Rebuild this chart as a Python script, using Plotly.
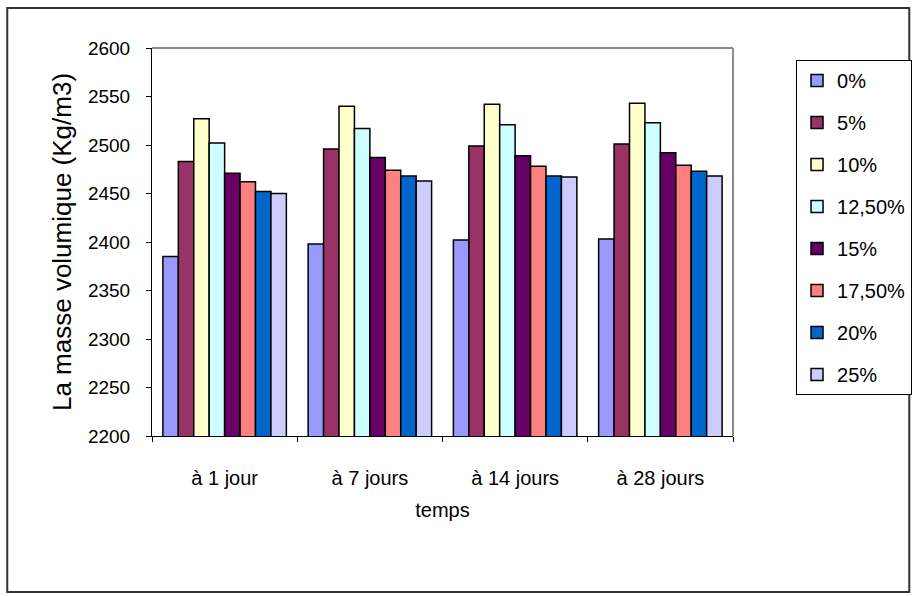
import plotly.graph_objects as go

# Density of concrete (kg/m3) by curing age and replacement rate
ages = ["à 1 jour", "à 7 jours", "à 14 jours", "à 28 jours"]
rates = ["0%", "5%", "10%", "12,50%", "15%", "17,50%", "20%", "25%"]

d_0 = [2385, 2398, 2402, 2403]
d_5 = [2483, 2496, 2499, 2501]
d_10 = [2527, 2540, 2542, 2543]
d_12_5 = [2502, 2517, 2521, 2523]
d_15 = [2471, 2487, 2489, 2492]
d_17_5 = [2462, 2474, 2478, 2479]
d_20 = [2452, 2468, 2468, 2473]
d_25 = [2450, 2463, 2467, 2468]

series = [d_0, d_5, d_10, d_12_5, d_15, d_17_5, d_20, d_25]
colors = ["#9999FF", "#993366", "#FFFFCC", "#CCFFFF",
          "#660066", "#FF8080", "#0066CC", "#CCCCFF"]

W, H = 924, 596
L, R, T, B = 152, 182, 48, 160
pw, ph = W - L - R, H - T - B

def px_x(x):
    return (x - L) / pw

def px_y(y):
    return (H - B - y) / ph

FONT = "Liberation Sans, Arial, sans-serif"

fig = go.Figure()
for name, vals, col in zip(rates, series, colors):
    fig.add_trace(go.Bar(
        x=ages, y=vals, name=name, legendgroup=name,
        marker=dict(color=col, line=dict(color="#000000", width=1.5)),
    ))

fig.update_layout(
    width=W, height=H,
    margin=dict(l=L, r=R, t=T, b=B),
    paper_bgcolor="white", plot_bgcolor="white",
    barmode="group", bargap=0.15, bargroupgap=0,
    font=dict(family=FONT, size=19, color="#000000"),
    showlegend=True,
    legend=dict(
        x=px_x(806), y=px_y(60), xanchor="left", yanchor="top",
        bordercolor="#000000", borderwidth=1, bgcolor="white",
        font=dict(family=FONT, size=20),
        tracegroupgap=13, itemwidth=30,
    ),
    xaxis=dict(
        showline=True, linecolor="#000000", linewidth=1,
        ticks="outside", ticklen=5, tickcolor="#000000",
        tickson="boundaries", ticklabelstandoff=24,
        title=dict(text="temps", standoff=14, font=dict(size=20)),
        showgrid=False, zeroline=False,
        tickfont=dict(size=20),
    ),
    yaxis=dict(
        range=[2200, 2600], dtick=50,
        showline=True, linecolor="#000000", linewidth=1,
        ticks="outside", ticklen=5, tickcolor="#000000",
        ticklabelstandoff=12,
        showgrid=False, zeroline=False,
        title=dict(text="La masse volumique (Kg/m3)", standoff=8,
                   font=dict(size=26)),
        tickfont=dict(size=19),
    ),
    shapes=[
        # outer chart frame
        dict(type="rect", xref="paper", yref="paper",
             x0=px_x(5), x1=px_x(921), y0=px_y(592), y1=px_y(8),
             line=dict(color="#333333", width=2), layer="below"),
        # plot area top and right edges
        dict(type="line", xref="paper", yref="paper",
             x0=0, x1=1, y0=1, y1=1, line=dict(color="#8C8C8C", width=2)),
        dict(type="line", xref="paper", yref="paper",
             x0=1, x1=1, y0=0, y1=1, line=dict(color="#8C8C8C", width=2)),
    ],
)

fig.write_html("out.html")
